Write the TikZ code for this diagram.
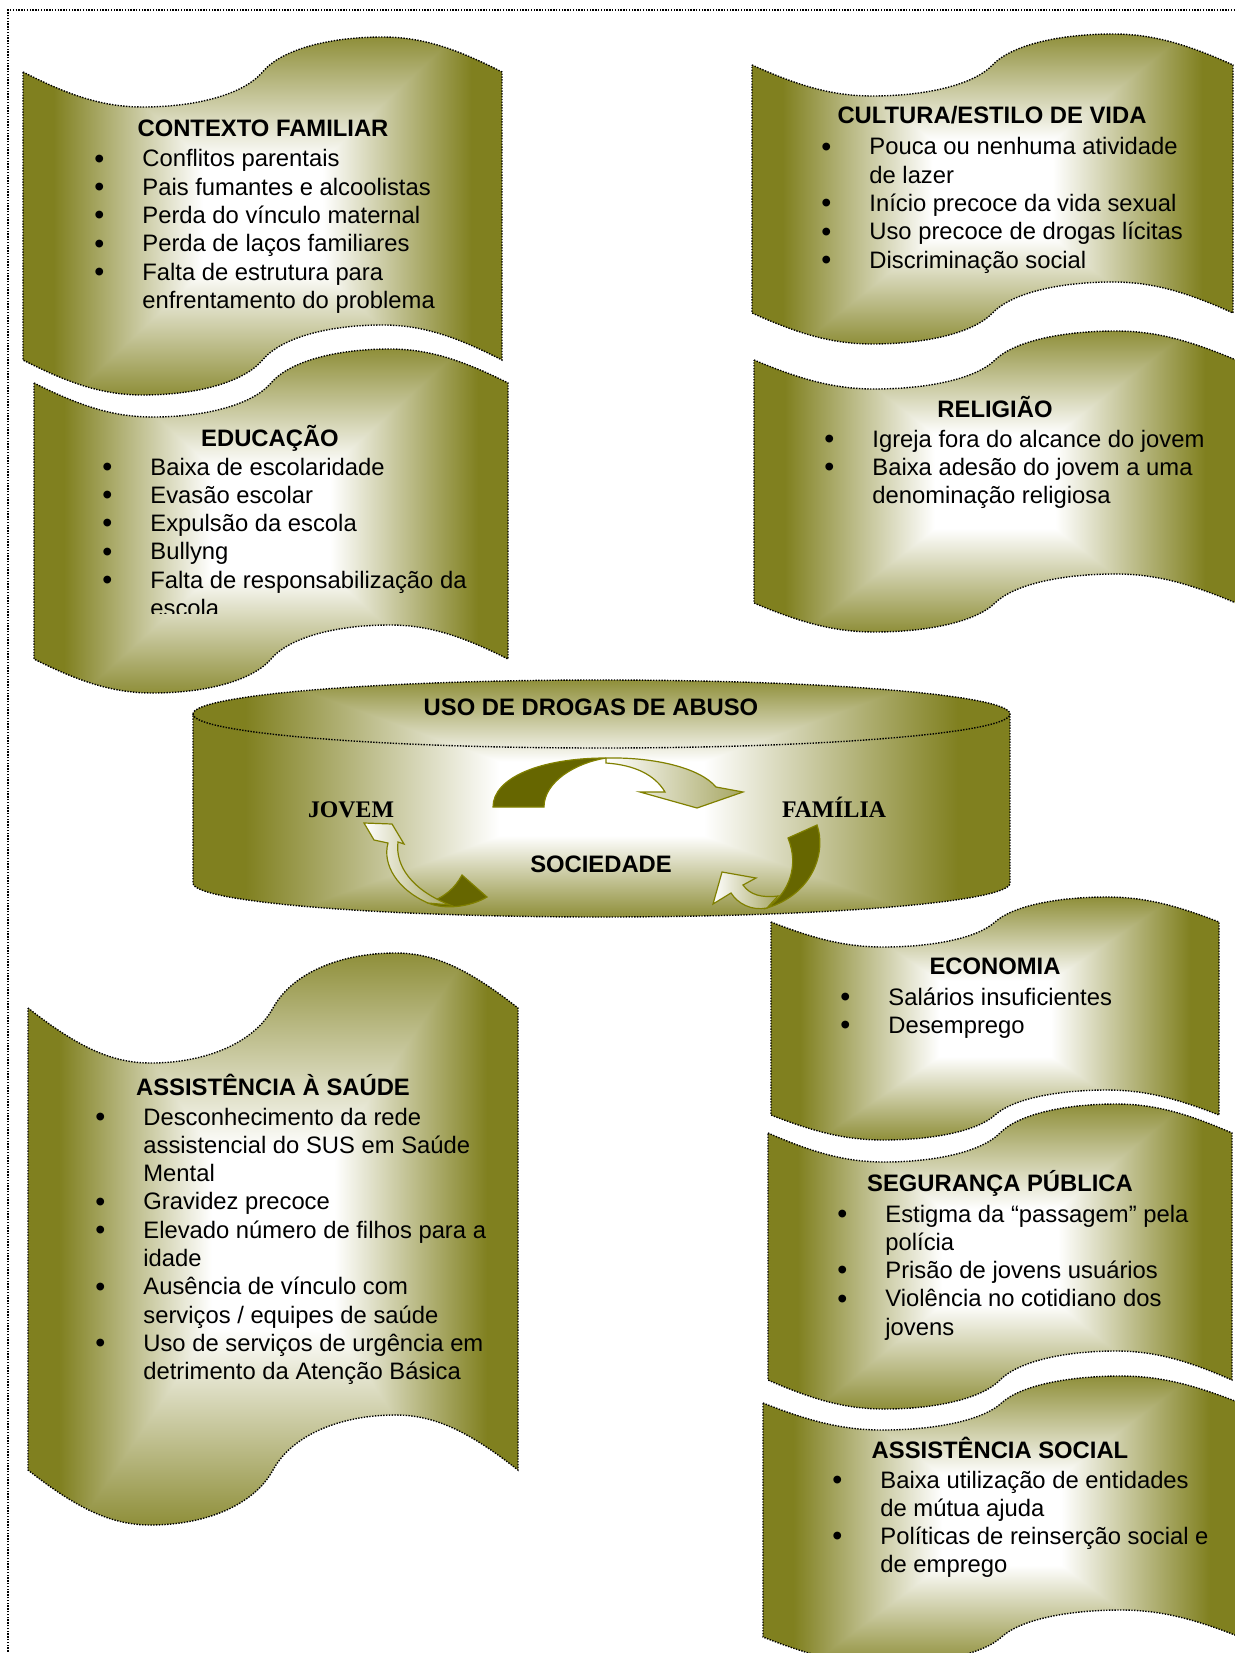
\documentclass[tikz,border=0pt]{standalone}
\usepackage{fontspec}
\setmainfont{Liberation Sans}
\newfontfamily\timesf{Liberation Serif}
\usepackage{graphicx}
\definecolor{oliv}{RGB}{128,128,31}
\definecolor{darkoliv}{RGB}{102,102,0}
\definecolor{olivline}{RGB}{128,128,0}
\pgfdeclarefunctionalshading{rectolive}{\pgfpoint{-50bp}{-50bp}}{\pgfpoint{50bp}{50bp}}{}{
abs 0.8 mul exch abs 2 copy sub abs add add 2 div 25 div
1.6 mul 0.4 sub dup abs add 2 div dup 1 sub abs neg 1 add add 2 div
dup dup 0.5 mul 1 exch sub 3 1 roll 0.5 mul 1 exch sub exch 0.88 mul 1 exch sub
}
\newcommand\wavepath[5]{%
(#1,#3) .. controls ({#1+0.10*(#2-#1)},{#3+0.7*#5}) and ({#1+0.17*(#2-#1)},{#3+#5}) .. ({#1+0.25*(#2-#1)},{#3+#5})
 .. controls ({#1+0.36*(#2-#1)},{#3+#5}) and ({#1+0.46*(#2-#1)},{#3+0.65*#5}) .. ({#1+0.5*(#2-#1)},#3)
 .. controls ({#1+0.54*(#2-#1)},{#3-0.65*#5}) and ({#1+0.64*(#2-#1)},{#3-#5}) .. ({#1+0.75*(#2-#1)},{#3-#5})
 .. controls ({#1+0.83*(#2-#1)},{#3-#5}) and ({#1+0.90*(#2-#1)},{#3-0.7*#5}) .. (#2,#3)
 -- (#2,#4)
 .. controls ({#1+0.90*(#2-#1)},{#4-0.7*#5}) and ({#1+0.83*(#2-#1)},{#4-#5}) .. ({#1+0.75*(#2-#1)},{#4-#5})
 .. controls ({#1+0.64*(#2-#1)},{#4-#5}) and ({#1+0.54*(#2-#1)},{#4-0.65*#5}) .. ({#1+0.5*(#2-#1)},#4)
 .. controls ({#1+0.46*(#2-#1)},{#4+0.65*#5}) and ({#1+0.36*(#2-#1)},{#4+#5}) .. ({#1+0.25*(#2-#1)},{#4+#5})
 .. controls ({#1+0.17*(#2-#1)},{#4+#5}) and ({#1+0.10*(#2-#1)},{#4+0.7*#5}) .. (#1,#4)
 -- cycle}
\newcommand\bul{\makebox[24pt][l]{\raisebox{-0.6pt}{\scalebox{1.2}{•}}}}
\newcommand\nob{\hspace*{24pt}}
\tikzset{
 banner/.style={draw=black, line width=0.7pt, dash pattern=on 0.7pt off 0.7pt, shading=rectolive},
 frameline/.style={draw=black, line width=0.7pt, dash pattern=on 0.7pt off 0.7pt},
 head/.style={font=\fontsize{11.9}{14.15}\selectfont\bfseries, inner sep=0pt, anchor=base},
 items/.style={font=\fontsize{11.9}{14.15}\selectfont, inner sep=0pt, anchor=base west},
 sernode/.style={font=\fontsize{11.9}{14.15}\selectfont\timesf\bfseries, inner sep=0pt, anchor=base},
 arrowdark/.style={fill=darkoliv, draw=olivline, line width=0.6pt},
 arrowlight/.style={left color=white, right color=oliv!70, draw=olivline, line width=0.6pt},
}
\begin{document}
\begin{tikzpicture}[x=0.5pt,y=-0.5pt]
\useasboundingbox (0,0) rectangle (1235,1653);
% frame
\coordinate (fTL) at (8,10);
\coordinate (fTR) at (1240,10);
\coordinate (fBL) at (8,1660);
\path[frameline] (fBL) -- (fTL) -- (fTR);

% banners
\path[banner] \wavepath{23}{502}{72}{360}{35};
\path[banner] \wavepath{34}{508}{383}{659}{34};
\path[banner] \wavepath{752}{1233}{65}{313}{31};
\path[banner] \wavepath{754}{1236}{360}{603}{29};
\path[banner] \wavepath{771}{1219}{922}{1115}{25};
\path[banner] \wavepath{768}{1232}{1133}{1380}{29};
\path[banner] \wavepath{763}{1240}{1403}{1637}{27};
\path[banner] \wavepath{28}{518}{1008}{1470}{55};

% cylinder
\path[banner] (193,714) .. controls (193,695.2) and (375.9,680) .. (601.5,680)
  .. controls (827.1,680) and (1010,695.2) .. (1010,714) -- (1010,883)
  .. controls (1010,901.8) and (827.1,917) .. (601.5,917)
  .. controls (375.9,917) and (193,901.8) .. (193,883) -- cycle;
\path[frameline] (193,714) .. controls (193,732.8) and (375.9,748) .. (601.5,748)
  .. controls (827.1,748) and (1010,732.8) .. (1010,714);

% arrows (cycle)
\path[arrowdark] (493,807) .. controls (493,778) and (540,758) .. (606,758)
  .. controls (575,763) and (544,782) .. (544,807) -- cycle;
\path[arrowlight] (606,758) .. controls (655,757) and (700,768) .. (716,787) -- (743,792) -- (697,808)
  -- (640,792) -- (665,792) .. controls (655,775) and (635,765) .. (606,763) -- cycle;
\path[arrowdark] (788,838) -- (817,825) .. controls (826,850) and (815,893) .. (767,908)
  .. controls (790,892) and (799,865) .. (788,838) -- cycle;
\path[arrowlight] (767,908) .. controls (752,911) and (738,904) .. (731,893) -- (713,904) -- (722,872)
  -- (756,878) -- (743,885) .. controls (750,895) and (762,898) .. (778,896) -- cycle;
\path[arrowdark] (462,875) -- (487,897) .. controls (470,907) and (445,910) .. (428,903)
  .. controls (445,897) and (455,888) .. (462,875) -- cycle;
\path[arrowlight] (428,903) .. controls (398,890) and (382,865) .. (388,843) -- (374,840) -- (364,823)
  -- (392,824) -- (404,844) -- (398,842) .. controls (395,866) and (412,890) .. (450,905) -- cycle;

% cylinder texts
\node[head] (uso) at (591,715) {USO DE DROGAS DE ABUSO};
\node[head] (soc) at (601,872) {SOCIEDADE};
\node[sernode] (jov) at (351,817) {JOVEM};
\node[sernode] (fam) at (834,817) {FAMÍLIA};

% CONTEXTO FAMILIAR
\node[head] (hcf) at (263,137) {CONTEXTO FAMILIAR};
\node[items] (lcf) at (94,167) {\begin{tabular}[t]{@{}l@{}}
\bul Conflitos parentais\\
\bul Pais fumantes e alcoolistas\\
\bul Perda do vínculo maternal\\
\bul Perda de laços familiares\\
\bul Falta de estrutura para\\
\nob enfrentamento do problema
\end{tabular}};

% EDUCACAO
\node[head] (hed) at (270,446) {EDUCAÇÃO};
\begin{scope}
\clip (40,440) rectangle (500,613);
\node[items] (led) at (102,475) {\begin{tabular}[t]{@{}l@{}}
\bul Baixa de escolaridade\\
\bul Evasão escolar\\
\bul Expulsão da escola\\
\bul Bullyng\\
\bul Falta de responsabilização da\\
\nob escola
\end{tabular}};
\end{scope}

% CULTURA
\node[head] (hcu) at (992,124) {CULTURA/ESTILO DE VIDA};
\node[items] (lcu) at (821,155) {\begin{tabular}[t]{@{}l@{}}
\bul Pouca ou nenhuma atividade\\
\nob de lazer\\
\bul Início precoce da vida sexual\\
\bul Uso precoce de drogas lícitas\\
\bul Discriminação social
\end{tabular}};

% RELIGIAO
\node[head] (hre) at (995,417) {RELIGIÃO};
\node[items] (lre) at (824,447) {\begin{tabular}[t]{@{}l@{}}
\bul Igreja fora do alcance do jovem\\
\bul Baixa adesão do jovem a uma\\
\nob denominação religiosa
\end{tabular}};

% ECONOMIA
\node[head] (hec) at (995,974) {ECONOMIA};
\node[items] (lec) at (840,1005) {\begin{tabular}[t]{@{}l@{}}
\bul Salários insuficientes\\
\bul Desemprego
\end{tabular}};

% SEGURANCA
\node[head] (hse) at (1000,1191) {SEGURANÇA PÚBLICA};
\node[items] (lse) at (837,1222) {\begin{tabular}[t]{@{}l@{}}
\bul Estigma da “passagem” pela\\
\nob polícia\\
\bul Prisão de jovens usuários\\
\bul Violência no cotidiano dos\\
\nob jovens
\end{tabular}};

% ASSISTENCIA SOCIAL
\node[head] (has) at (1000,1458) {ASSISTÊNCIA SOCIAL};
\node[items] (las) at (832,1488) {\begin{tabular}[t]{@{}l@{}}
\bul Baixa utilização de entidades\\
\nob de mútua ajuda\\
\bul Políticas de reinserção social e\\
\nob de emprego
\end{tabular}};

% ASSISTENCIA A SAUDE
\node[head] (hsa) at (273,1095) {ASSISTÊNCIA À SAÚDE};
\node[items] (lsa) at (95,1125) {\begin{tabular}[t]{@{}l@{}}
\bul Desconhecimento da rede\\
\nob assistencial do SUS em Saúde\\
\nob Mental\\
\bul Gravidez precoce\\
\bul Elevado número de filhos para a\\
\nob idade\\
\bul Ausência de vínculo com\\
\nob serviços / equipes de saúde\\
\bul Uso de serviços de urgência em\\
\nob detrimento da Atenção Básica
\end{tabular}};
\end{tikzpicture}
\end{document}
